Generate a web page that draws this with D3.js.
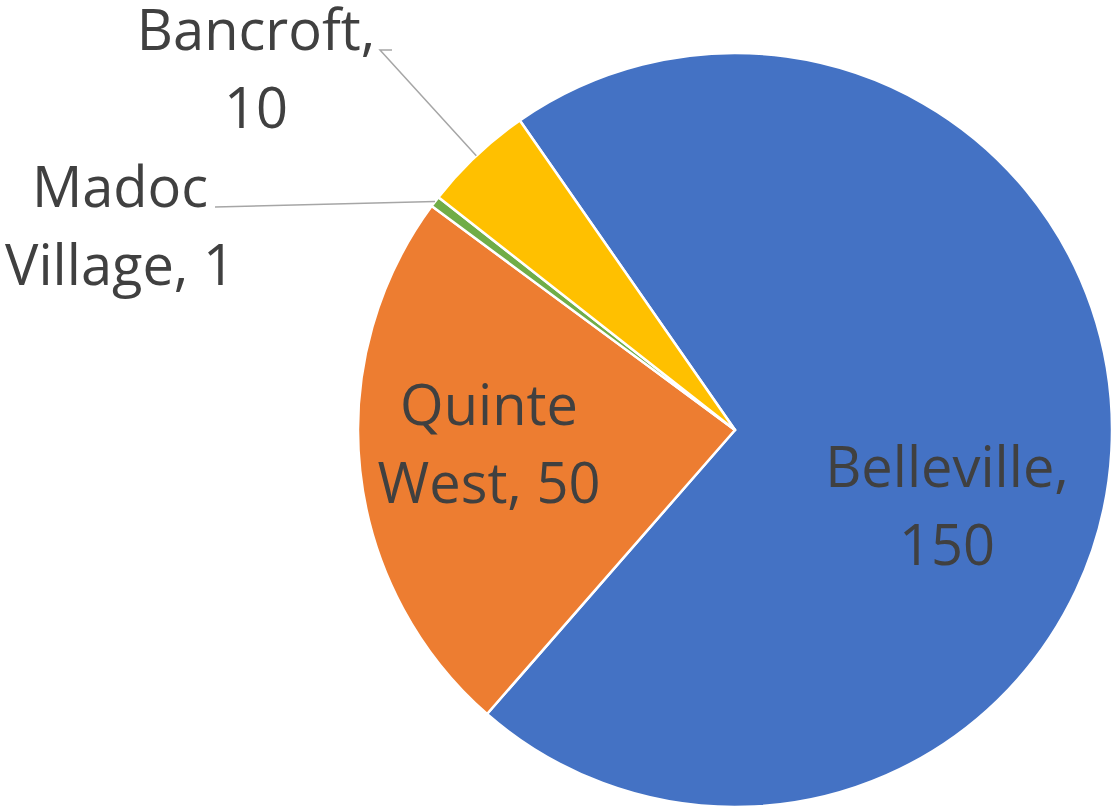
<!DOCTYPE html>
<html>
<head>
<meta charset="utf-8">
<script src="https://cdn.jsdelivr.net/npm/d3@7"></script>
<style>
  body { margin: 0; background: #fff; }
  svg { display: block; }
</style>
</head>
<body>
<script>
const categories = ["Belleville", "Quinte West", "Madoc Village", "Bancroft"];
const values = [150, 50, 1, 10];
const colors = ["#4472C4", "#ED7D31", "#70AD47", "#FFC000"];
// label text split into lines
const labelLines = [
    ["Belleville,", "150"],
    ["Quinte", "West, 50"],
    ["Madoc", "Village, 1"],
    ["Bancroft,", "10"]
];

const width = 1117, height = 810;
const cx = 735, cy = 430, radius = 377;
const lineHeight = 78;

const svg = d3.select("body").append("svg")
    .attr("width", width)
    .attr("height", height);

const g = svg.append("g")
    .attr("transform", "translate(" + cx + "," + cy + ")");

const start = -34.8 * Math.PI / 180;
const pie = d3.pie().sort(null).value(d => d)
    .startAngle(start).endAngle(start + 2 * Math.PI);
const arcs = pie(values);

const arc = d3.arc().innerRadius(0).outerRadius(radius);

g.selectAll("path.slice")
    .data(arcs)
    .enter()
    .append("path")
    .attr("class", "slice")
    .attr("d", arc)
    .attr("fill", (d, i) => colors[i])
    .attr("stroke", "#fff")
    .attr("stroke-width", 2.5)
    .attr("stroke-linejoin", "round");

// where each label block sits (center x, first baseline), relative to center
const labelPos = [
    {x: 212, y: 57, anchor: "middle"},
    {x: -246, y: -5, anchor: "middle"},
    {x: -615, y: -223, anchor: "middle"},
    {x: -479, y: -380, anchor: "middle"}
];

const labels = g.selectAll("text.label")
    .data(arcs)
    .enter()
    .append("text")
    .attr("class", "label")
    .attr("text-anchor", (d, i) => labelPos[i].anchor)
    .style("font-family", "'Open Sans', sans-serif")
    .style("font-size", "56px")
    .style("fill", "#404040");

labels.each(function(d, i) {
    d3.select(this).selectAll("tspan")
        .data(labelLines[i])
        .enter()
        .append("tspan")
        .attr("x", labelPos[i].x)
        .attr("y", (t, j) => labelPos[i].y + j * lineHeight)
        .text(t => t);
});

// leader lines for the small slices
const edgePoint = d => {
    const a = (d.startAngle + d.endAngle) / 2;
    return [radius * Math.sin(a), -radius * Math.cos(a)];
};

const leaders = [
    {i: 2, pts: [[-520, -223]]},
    {i: 3, pts: [[-343, -380], [-355, -380]]}
];

leaders.forEach(l => {
    const p = edgePoint(arcs[l.i]);
    const pts = [p].concat(l.pts.slice().reverse());
    g.append("path")
        .attr("d", d3.line()(pts))
        .attr("fill", "none")
        .attr("stroke", "#A6A6A6")
        .attr("stroke-width", 1.5);
});
</script>
</body>
</html>
